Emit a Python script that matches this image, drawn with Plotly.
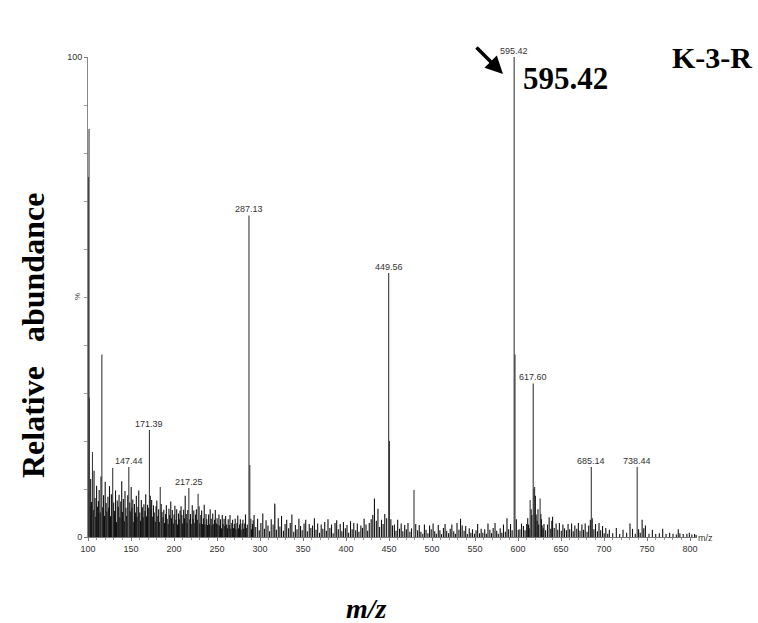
import plotly.graph_objects as go

# ---------------- data ----------------
# labelled / prominent peaks
major_mz = [100.4, 101.2, 101.6, 105.2, 116.1, 128.7, 147.44, 171.39, 184.0, 217.25,
            228.0, 287.13, 288.1, 317.0, 449.56, 450.5, 479.0, 595.42, 596.4, 614.0,
            617.60, 619.2, 625.6, 685.14, 738.44]
major_int = [75, 85, 29, 17.7, 38, 14.4, 14.6, 22.3, 10.4, 10.2,
             9, 67, 15, 7, 55, 20, 9.8, 100, 38, 7.7,
             32, 10.4, 8, 14.6, 14.6]

label_mz = [147.44, 171.39, 217.25, 287.13, 449.56, 595.42, 617.60, 685.14, 738.44]
label_txt = ["147.44", "171.39", "217.25", "287.13", "449.56", "595.42", "617.60", "685.14", "738.44"]
label_int = [14.6, 22.3, 10.2, 67, 55, 100, 32, 14.6, 14.6]

# background ion peaks
noise_mz = [
    100.2, 102.3, 103.1, 104.0, 106.1, 107.0, 108.2, 109.1, 110.0, 111.2,
    112.1, 113.0, 114.2, 115.1, 117.0, 118.1, 119.2, 120.0, 121.1, 122.0,
    123.2, 124.1, 125.0, 126.1, 127.2, 129.8, 130.9, 132.0, 133.1, 134.0,
    135.2, 136.1, 137.0, 138.1, 139.2, 140.0, 141.1, 142.2, 143.0, 144.1,
    145.0, 146.2, 148.5, 149.1, 150.2, 151.0, 152.1, 153.2, 154.0, 155.1,
    156.2, 157.0, 158.1, 159.0, 160.2, 161.1, 162.0, 163.2, 164.1, 165.0,
    166.2, 167.1, 168.0, 169.2, 170.1, 172.4, 173.1, 174.0, 175.2, 176.1,
    177.0, 178.2, 179.1, 180.0, 181.2, 182.1, 183.0, 185.1, 186.0, 187.2,
    188.1, 189.0, 190.2, 191.1, 192.0, 193.2, 194.1, 195.0, 196.2, 197.1,
    198.0, 199.2, 200.1, 201.0, 202.2, 203.1, 204.0, 205.2, 206.1, 207.0,
    208.2, 209.1, 210.0, 211.2, 212.1, 213.0, 214.2, 215.1, 216.0, 218.3,
    219.1, 220.0, 221.2, 222.1, 223.0, 224.2, 225.1, 226.0, 227.2, 229.1,
    230.0, 231.2, 232.1, 233.0, 234.2, 235.1, 236.0, 237.2, 238.1, 239.0,
    240.2, 241.1, 242.0, 243.2, 244.1, 245.0, 246.2, 247.1, 248.0, 249.2,
    250.1, 251.0, 252.2, 253.1, 254.0, 255.2, 256.1, 257.0, 258.2, 259.1,
    260.0, 261.2, 262.1, 263.0, 264.2, 265.1, 266.0, 267.2, 268.1, 269.0,
    270.2, 271.1, 272.0, 273.2, 274.1, 275.0, 276.2, 277.1, 278.0, 279.2,
    280.1, 281.0, 282.2, 283.1, 284.0, 285.2, 289.3, 290.1, 291.2, 292.0,
    293.1, 295.0, 297.2, 299.1, 301.0, 303.2, 305.1, 307.0, 309.2, 311.1,
    313.0, 315.2, 317.1, 319.0, 321.2, 323.1, 325.0, 327.2, 329.1, 331.0,
    333.2, 335.1, 337.0, 339.2, 341.1, 343.0, 345.2, 347.1, 349.0, 351.2,
    353.1, 355.0, 357.2, 359.1, 361.0, 363.2, 365.1, 367.0, 369.2, 371.1,
    373.0, 375.2, 377.1, 379.0, 381.2, 383.1, 385.0, 387.2, 389.1, 391.0,
    393.2, 395.1, 397.0, 399.2, 401.1, 403.0, 405.2, 407.1, 409.0, 411.2,
    413.1, 415.0, 417.2, 419.1, 421.0, 423.2, 425.1, 427.0, 429.2, 431.1,
    433.0, 435.2, 437.1, 439.0, 441.2, 443.1, 445.0, 447.2, 452.1, 454.0,
    456.2, 458.1, 460.0, 462.2, 464.1, 466.0, 468.2, 470.1, 472.0, 474.2,
    476.1, 481.0, 483.2, 485.1, 487.0, 489.2, 491.1, 493.0, 495.2, 497.1,
    499.0, 501.2, 503.1, 505.0, 507.2, 509.1, 511.0, 513.2, 515.1, 517.0,
    519.2, 521.1, 523.0, 525.2, 527.1, 529.0, 531.2, 533.1, 535.0, 537.2,
    539.1, 541.0, 543.2, 545.1, 547.0, 549.2, 551.1, 553.0, 555.2, 557.1,
    559.0, 561.2, 563.1, 565.0, 567.2, 569.1, 571.0, 573.2, 575.1, 577.0,
    579.2, 581.1, 583.0, 585.2, 587.1, 589.0, 591.2, 593.1, 598.0, 600.2,
    602.1, 604.0, 606.2, 608.1, 610.0, 611.2, 612.1, 613.0, 615.2, 616.1,
    618.5, 620.1, 621.0, 622.2, 623.1, 624.0, 626.5, 627.1, 628.0, 629.2,
    630.1, 632.0, 634.2, 636.1, 638.0, 639.2, 640.1, 642.0, 644.2, 646.1,
    648.0, 650.2, 652.1, 654.0, 656.2, 658.1, 660.0, 662.2, 664.1, 666.0,
    668.2, 670.1, 672.0, 674.2, 676.1, 678.0, 680.2, 682.1, 684.0, 686.2,
    688.1, 690.0, 692.2, 694.1, 696.0, 698.2, 700.1, 702.0, 704.2, 706.1,
    710.0, 714.2, 718.1, 722.0, 726.2, 730.1, 733.0, 736.2, 740.1, 742.0,
    744.2, 746.1, 748.0, 752.2, 756.1, 760.0, 764.2, 768.1, 772.0, 776.2,
    780.1, 784.0, 786.2, 788.1, 792.0, 796.2, 799.1, 802.0, 805.2, 807.0,
]
noise_int = [
    9.2, 6.4, 12.1, 7.3, 5.6, 13.8, 8.1, 4.2, 10.7, 6.3,
    7.5, 9.8, 5.1, 12.6, 6.2, 8.7, 4.4, 11.5, 7.1, 5.3,
    8.4, 6.1, 10.6, 4.3, 8.9, 7.2, 5.4, 9.7, 3.1, 7.6,
    6.3, 8.8, 4.1, 7.4, 11.6, 5.2, 7.9, 3.3, 9.6, 6.1,
    4.4, 8.7, 7.2, 5.3, 10.4, 6.1, 7.8, 3.2, 6.9, 5.1,
    8.6, 4.2, 6.3, 9.7, 5.1, 3.4, 7.7, 6.2, 4.1, 6.8,
    5.4, 8.9, 4.3, 6.7, 6.1, 8.6, 5.8, 7.7, 4.2, 6.6,
    5.1, 3.2, 6.4, 7.6, 4.3, 5.8, 3.1, 6.9, 5.2, 4.1,
    5.7, 2.9, 4.8, 6.6, 3.8, 2.7, 5.9, 4.6, 7.4, 3.9,
    5.6, 2.8, 4.7, 6.5, 3.6, 5.8, 2.6, 4.9, 3.7, 5.5,
    6.4, 4.6, 2.8, 5.7, 3.9, 8.6, 4.8, 2.9, 5.6, 3.7,
    4.8, 2.7, 6.6, 3.8, 5.5, 2.9, 4.7, 5.8, 3.6, 6.4,
    2.8, 4.6, 5.5, 2.7, 3.9, 6.7, 2.6, 4.8, 3.7, 2.5,
    4.7, 2.6, 5.8, 3.8, 2.4, 4.9, 2.7, 3.6, 5.6, 2.8,
    3.9, 2.6, 4.7, 2.4, 3.7, 1.8, 4.6, 2.7, 3.8, 2.3,
    4.4, 2.6, 1.8, 3.7, 2.5, 4.6, 1.7, 2.9, 3.6, 1.9,
    2.7, 3.8, 1.6, 2.9, 4.5, 1.8, 2.6, 3.7, 1.5, 2.8,
    3.6, 1.7, 2.8, 4.7, 1.9, 2.6, 3.8, 1.6, 2.7, 3.5,
    4.6, 2.1, 3.8, 1.4, 2.9, 4.9, 1.7, 3.5, 2.4, 1.2,
    3.7, 2.6, 6.8, 1.5, 3.9, 2.2, 4.4, 1.3, 2.7, 3.6,
    1.8, 2.9, 4.7, 1.1, 2.5, 1.6, 3.8, 2.3, 1.4, 2.8,
    3.6, 1.2, 2.7, 1.9, 2.4, 3.9, 1.5, 2.8, 0.9, 2.6,
    1.7, 3.1, 1.3, 3.7, 1.9, 2.6, 0.8, 2.9, 3.5, 1.6,
    2.7, 1.2, 3.1, 1.8, 2.5, 0.9, 3.3, 1.6, 2.9, 1.4,
    2.8, 1.1, 2.4, 1.9, 3.8, 2.6, 1.3, 2.9, 3.7, 4.6,
    8.0, 3.4, 5.9, 2.1, 3.6, 2.7, 4.8, 3.9, 3.7, 2.4,
    2.6, 1.3, 3.6, 1.7, 2.8, 1.2, 2.5, 1.6, 2.9, 1.1,
    1.8, 2.7, 1.4, 2.5, 1.1, 0.7, 2.6, 1.5, 0.8, 2.4,
    1.6, 2.8, 1.2, 0.7, 2.5, 1.4, 0.6, 1.9, 2.7, 1.3,
    0.8, 1.7, 2.6, 1.2, 0.7, 2.9, 1.5, 3.8, 2.4, 1.3,
    2.3, 0.6, 1.8, 0.9, 1.6, 0.7, 1.4, 2.7, 0.8, 1.7,
    0.9, 1.6, 0.7, 2.8, 1.5, 0.8, 1.9, 2.9, 1.3, 0.7,
    1.8, 0.9, 2.6, 1.1, 3.9, 1.6, 2.7, 1.4, 3.7, 1.5,
    1.6, 2.8, 2.3, 1.4, 2.7, 3.9, 2.6, 1.8, 5.8, 4.6,
    10.0, 8.6, 4.7, 3.4, 5.8, 2.6, 4.8, 3.7, 2.4, 1.8,
    2.7, 1.4, 2.6, 4.1, 1.7, 3.4, 4.2, 1.9, 2.8, 1.5,
    2.9, 1.3, 2.6, 1.8, 1.4, 2.7, 1.6, 2.8, 1.2, 2.4,
    1.7, 2.9, 1.3, 2.6, 1.5, 2.8, 1.1, 2.4, 3.6, 3.9,
    1.6, 2.7, 1.2, 2.9, 1.4, 2.3, 0.8, 1.9, 0.7, 1.5,
    0.8, 1.9, 0.6, 1.5, 0.9, 2.8, 1.7, 0.7, 1.6, 0.9,
    3.6, 1.8, 2.4, 0.7, 1.5, 0.6, 0.8, 1.7, 0.6, 0.9,
    0.7, 0.5, 1.6, 0.8, 0.6, 0.7, 0.9, 0.5, 0.6, 0.4,
]

x_ticks = [100, 150, 200, 250, 300, 350, 400, 450, 500, 550, 600, 650, 700, 750, 800]
y_ticks = [0, 100]

# ---------------- layout constants ----------------
W, H = 758, 623
ML, MR, MT, MB = 88, 61, 57, 86
XR = [100, 808]
YR = [0, 100]
PW, PH = W - ML - MR, H - MT - MB


def px2paper_x(px):
    return (px - ML) / PW


def px2paper_y(py):
    return (H - MB - py) / PH


def sticks(xs, ys):
    sx, sy = [], []
    for x, y in zip(xs, ys):
        sx += [x, x, None]
        sy += [0, y, None]
    return sx, sy


fig = go.Figure()

nx, ny = sticks(noise_mz, noise_int)
fig.add_trace(go.Scatter(x=nx, y=ny, mode="lines", line=dict(color="#111111", width=1.1),
                         hoverinfo="skip", showlegend=False, cliponaxis=False))
mx, my = sticks(major_mz, major_int)
fig.add_trace(go.Scatter(x=mx, y=my, mode="lines", line=dict(color="#3a3a3a", width=1.1),
                         hoverinfo="skip", showlegend=False, cliponaxis=False))

small_font = dict(family="Liberation Sans, Arial, sans-serif", size=9, color="#333333")
serif_bold = "Liberation Serif, Times New Roman, serif"

annotations = []
for x, t, y in zip(label_mz, label_txt, label_int):
    annotations.append(dict(x=x, y=y, xref="x", yref="y", text=t, showarrow=False,
                            yanchor="bottom", xanchor="center", yshift=-1, font=small_font))

# arrow pointing to the base peak
annotations.append(dict(x=px2paper_x(503), y=px2paper_y(74), xref="paper", yref="paper",
                        ax=-28, ay=-28, text="", showarrow=True, arrowhead=2,
                        arrowsize=1, arrowwidth=3.5, arrowcolor="black"))
annotations.append(dict(x=px2paper_x(565), y=px2paper_y(79), xref="paper", yref="paper",
                        text="<b>595.42</b>", showarrow=False, xanchor="center", yanchor="middle",
                        font=dict(family=serif_bold, size=31, color="black")))
annotations.append(dict(x=px2paper_x(712), y=px2paper_y(57), xref="paper", yref="paper",
                        text="<b>K-3-R</b>", showarrow=False, xanchor="center", yanchor="middle",
                        font=dict(family=serif_bold, size=30, color="black")))
annotations.append(dict(x=px2paper_x(33), y=px2paper_y(336), xref="paper", yref="paper",
                        text="<b>Relative\u00a0\u00a0\u00a0abundance</b>", showarrow=False,
                        textangle=-90, xanchor="center", yanchor="middle",
                        font=dict(family=serif_bold, size=32, color="black")))
annotations.append(dict(x=px2paper_x(366), y=px2paper_y(608), xref="paper", yref="paper",
                        text="<b><i>m/z</i></b>", showarrow=False, xanchor="center", yanchor="middle",
                        font=dict(family=serif_bold, size=28, color="black")))
annotations.append(dict(x=px2paper_x(696), y=px2paper_y(538), xref="paper", yref="paper",
                        text="m/z", showarrow=False, xanchor="left", yanchor="middle",
                        font=small_font))
annotations.append(dict(x=px2paper_x(77), y=px2paper_y(297), xref="paper", yref="paper",
                        text="%", showarrow=False, textangle=-90, xanchor="center", yanchor="middle",
                        font=dict(family="Liberation Sans, Arial, sans-serif", size=8, color="#333333")))

fig.update_layout(
    width=W, height=H,
    margin=dict(l=ML, r=MR, t=MT, b=MB, pad=0),
    paper_bgcolor="white", plot_bgcolor="white",
    annotations=annotations,
    xaxis=dict(range=XR, tickvals=x_ticks, ticktext=[str(v) for v in x_ticks],
               showgrid=False, zeroline=False, showline=True, linecolor="#777777", linewidth=1,
               ticks="outside", ticklen=3, tickcolor="#777777", tickfont=small_font,
               minor=dict(dtick=10, tick0=100, ticks="outside", ticklen=2, tickcolor="#999999")),
    yaxis=dict(range=YR, tickvals=y_ticks, ticktext=[str(v) for v in y_ticks],
               showgrid=False, zeroline=False, showline=True, linecolor="#888888", linewidth=1,
               ticks="outside", ticklen=3, tickcolor="#777777", tickfont=small_font,
               minor=dict(dtick=10, ticks="outside", ticklen=3, tickcolor="#999999")),
)

fig.write_html("out.html")
